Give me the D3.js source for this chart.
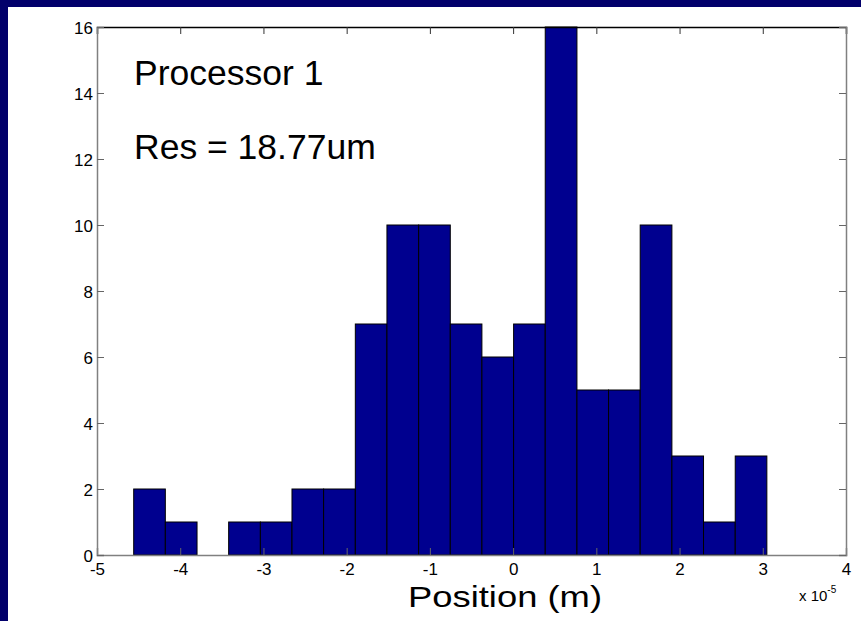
<!DOCTYPE html>
<html>
<head>
<meta charset="utf-8">
<script src="https://cdn.jsdelivr.net/npm/d3@7/dist/d3.min.js"></script>
<style>
  html, body { margin: 0; padding: 0; background: #fff; }
  svg { display: block; }
  text { font-family: "Liberation Sans", Arial, sans-serif; }
</style>
</head>
<body>
<svg id="chart" width="861" height="621"></svg>
<script>
// Histogram bin edges (position, units of 1e-5 m) and counts per bin
const binEdges = [-4.559, -4.179, -3.798, -3.418, -3.037, -2.657, -2.277, -1.896, -1.516, -1.135,
                  -0.755, -0.375, 0.006, 0.386, 0.767, 1.147, 1.527, 1.908, 2.288, 2.669, 3.049];
const binCounts = [2, 1, 0, 1, 1, 2, 2, 7, 10, 10, 7, 6, 7, 16, 5, 5, 10, 3, 1, 3];
const xTicks = [-5, -4, -3, -2, -1, 0, 1, 2, 3, 4];
const yTicks = [0, 2, 4, 6, 8, 10, 12, 14, 16];
const annotations = ["Processor 1", "Res = 18.77um"];
const xLabel = "Position (m)";

const svg = d3.select("#chart");
const W = 861, H = 621;
const plotL = 97, plotR = 846, plotT = 27, plotB = 555;

// Slide frame: navy bands on the top and left edges
svg.append("rect").attr("x", 0).attr("y", 0).attr("width", W).attr("height", H).attr("fill", "#fff");
svg.append("rect").attr("x", 0).attr("y", 0).attr("width", W).attr("height", 7).attr("fill", "#02006b");
svg.append("rect").attr("x", 0).attr("y", 0).attr("width", 8).attr("height", H).attr("fill", "#02006b");

const x = d3.scaleLinear().domain([-5, 4]).range([plotL, plotR]);
const y = d3.scaleLinear().domain([0, 16]).range([plotB, plotT]);

// Bars
const bins = binCounts.map((c, i) => ({ x0: binEdges[i], x1: binEdges[i + 1], n: c }));
svg.append("g").selectAll("rect").data(bins.filter(d => d.n > 0)).join("rect")
  .attr("x", d => x(d.x0))
  .attr("y", d => y(d.n))
  .attr("width", d => x(d.x1) - x(d.x0))
  .attr("height", d => y(0) - y(d.n))
  .attr("fill", "#00008f")
  .attr("stroke", "#000")
  .attr("stroke-width", 1);

// Axes (MATLAB-style box with inward ticks)
const tickLen = 7;
const fmt = d => String(d);
const axB = svg.append("g").attr("transform", `translate(0,${plotB})`)
  .call(d3.axisBottom(x).tickValues(xTicks).tickSize(-tickLen).tickPadding(8).tickFormat(fmt));
const axT = svg.append("g").attr("transform", `translate(0,${plotT})`)
  .call(d3.axisTop(x).tickValues(xTicks).tickSize(-tickLen).tickFormat(""));
const axL = svg.append("g").attr("transform", `translate(${plotL},0)`)
  .call(d3.axisLeft(y).tickValues(yTicks).tickSize(-tickLen).tickPadding(4).tickFormat(fmt));
const axR = svg.append("g").attr("transform", `translate(${plotR},0)`)
  .call(d3.axisRight(y).tickValues(yTicks).tickSize(-tickLen).tickFormat(""));

[axB, axL, axR].forEach(g => {
  g.select(".domain").attr("stroke", "#808080").attr("stroke-width", 1.5);
  g.selectAll(".tick line").attr("stroke", "#666");
});
axT.select(".domain").attr("stroke", "#000").attr("stroke-width", 1.5);
axT.selectAll(".tick line").attr("stroke", "#333");

[axB, axL, axT, axR].forEach(g => g.attr("font-size", 17)
  .attr("font-family", "'Liberation Sans', Arial, sans-serif"));
[axB, axL].forEach(g => g.selectAll(".tick text").attr("fill", "#000"));
axL.selectAll(".tick text").attr("dy", "0.36em");

// Exponent note
const ex = svg.append("text").attr("x", 799).attr("y", 601).attr("fill", "#000")
  .style("font-size", "15px");
ex.append("tspan").text("x 10");
ex.append("tspan").attr("dy", -8).style("font-size", "10px").text("-5");

// Axis label
svg.append("text").attr("x", 505).attr("y", 607).attr("text-anchor", "middle")
  .attr("fill", "#000").style("font-size", "30px")
  .attr("textLength", 194).attr("lengthAdjust", "spacingAndGlyphs").text(xLabel);

// Annotations
svg.append("text").attr("x", 134).attr("y", 85).attr("fill", "#000")
  .style("font-size", "35.5px").text(annotations[0]);
svg.append("text").attr("x", 134).attr("y", 159).attr("fill", "#000")
  .style("font-size", "35.5px").text(annotations[1]);
</script>
</body>
</html>
